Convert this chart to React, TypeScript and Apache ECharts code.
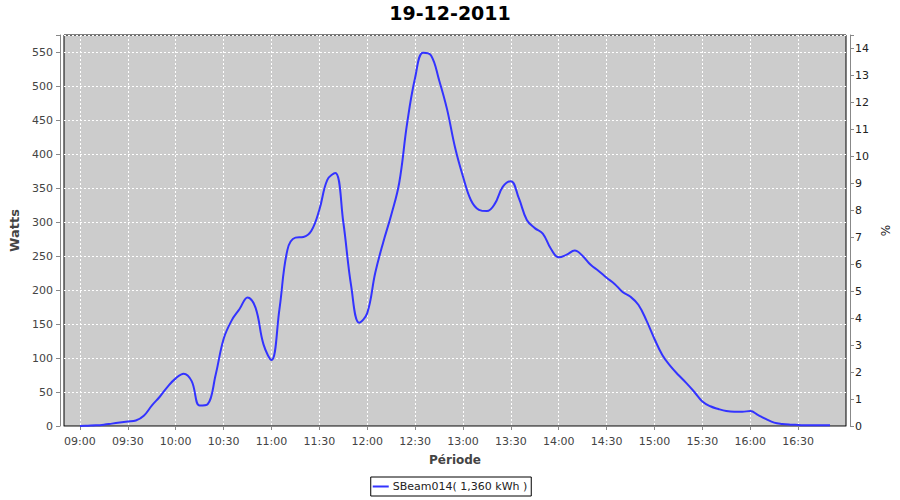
import React, { useEffect, useRef } from 'react';
import * as echarts from 'echarts';

const chartTitle = '19-12-2011';
const seriesName = 'SBeam014( 1,360 kWh )';
const yLeftName = 'Watts';
const yRightName = '%';
const xName = 'Période';

const times: string[] = [
  '08:50', '08:55',
  '09:00', '09:05', '09:10', '09:15', '09:20', '09:25', '09:30', '09:35', '09:40', '09:45', '09:50', '09:55',
  '10:00', '10:05', '10:10', '10:15', '10:20', '10:25', '10:30', '10:35', '10:40', '10:45', '10:50', '10:55',
  '11:00', '11:05', '11:10', '11:15', '11:20', '11:25', '11:30', '11:35', '11:40', '11:45', '11:50', '11:55',
  '12:00', '12:05', '12:10', '12:15', '12:20', '12:25', '12:30', '12:35', '12:40', '12:45', '12:50', '12:55',
  '13:00', '13:05', '13:10', '13:15', '13:20', '13:25', '13:30', '13:35', '13:40', '13:45', '13:50', '13:55',
  '14:00', '14:05', '14:10', '14:15', '14:20', '14:25', '14:30', '14:35', '14:40', '14:45', '14:50', '14:55',
  '15:00', '15:05', '15:10', '15:15', '15:20', '15:25', '15:30', '15:35', '15:40', '15:45', '15:50', '15:55',
  '16:00', '16:05', '16:10', '16:15', '16:20', '16:25', '16:30', '16:35', '16:40', '16:45', '16:50', '16:55',
  '17:00',
];

const watts: (number | null)[] = [
  null, null,
  0, 0.5, 1, 2, 3.5, 5, 6.5, 8, 15, 30, 43, 58,
  70, 77, 66, 30, 32, 75, 128, 155, 172, 189, 174, 120,
  97, 172, 259, 277, 278, 287, 318, 362, 372, 300, 205, 152,
  166, 225, 270, 310, 357, 445, 512, 549, 545, 509, 466, 410,
  367, 332, 318, 316, 327, 352, 360, 335, 303, 291, 283, 261,
  248, 252, 258, 250, 237, 228, 218, 209, 197, 190, 178, 155,
  128, 104, 88, 75, 63, 50, 36, 29, 25, 22, 21, 21,
  22, 16, 10, 5, 3, 2, 1.5, 1, 1, 1, 1, null,
  null,
];

const xTickLabels: string[] = [
  '09:00', '09:30', '10:00', '10:30', '11:00', '11:30', '12:00', '12:30',
  '13:00', '13:30', '14:00', '14:30', '15:00', '15:30', '16:00', '16:30',
];

const leftMax = 575;
const leftStep = 50;
const rightMax = 14.5;
const rightStep = 1;

export default function App() {
  const ref = useRef<HTMLDivElement>(null);

  useEffect(() => {
    if (!ref.current) return;
    const chart = echarts.init(ref.current, null, { renderer: 'svg' });
    const font = 'DejaVu Sans';
    const axisGray = '#888888';
    const labelColor = '#444444';
    const showTick = (_i: number, v: string) => xTickLabels.includes(v);

    chart.setOption({
      animation: false,
      backgroundColor: '#ffffff',
      title: {
        text: chartTitle,
        left: 'center',
        top: 3,
        padding: 0,
        textStyle: { fontFamily: font, fontSize: 19, fontWeight: 'bold', color: '#000000' },
      },
      legend: {
        data: [{ name: seriesName, icon: 'rect' }],
        left: 'center',
        top: 477,
        borderColor: '#000000',
        borderWidth: 1,
        padding: [4, 4, 4, 2],
        itemWidth: 16,
        itemHeight: 2,
        itemGap: 0,
        textStyle: { fontFamily: font, fontSize: 11, color: '#222222', padding: [0, 0, 0, -1] },
      },
      grid: {
        left: 64,
        right: 54,
        top: 35,
        bottom: 74,
        show: true,
        backgroundColor: '#cccccc',
        borderColor: '#000000',
        borderWidth: 1,
      },
      xAxis: {
        type: 'category',
        data: times,
        boundaryGap: false,
        offset: 3,
        name: xName,
        nameLocation: 'middle',
        nameGap: 25,
        nameTextStyle: { fontFamily: font, fontSize: 12, fontWeight: 'bold', color: labelColor },
        axisLine: { show: true, lineStyle: { color: axisGray, width: 1 } },
        axisTick: { show: true, interval: showTick, length: 4, lineStyle: { color: axisGray } },
        axisLabel: {
          interval: showTick,
          margin: 7,
          fontFamily: font,
          fontSize: 11,
          color: labelColor,
        },
        splitLine: {
          show: true,
          interval: showTick,
          lineStyle: { color: '#ffffff', width: 1, type: [2, 2] },
        },
      },
      yAxis: [
        {
          type: 'value',
          min: 0,
          max: leftMax,
          interval: leftStep,
          position: 'left',
          offset: 4,
          name: yLeftName,
          nameLocation: 'middle',
          nameGap: 28,
          nameTextStyle: { fontFamily: font, fontSize: 13, fontWeight: 'bold', color: labelColor },
          axisLine: { show: true, lineStyle: { color: axisGray, width: 1 } },
          axisTick: { show: true, length: 4, lineStyle: { color: axisGray } },
          axisLabel: {
            margin: 7,
            fontFamily: font,
            fontSize: 11,
            color: labelColor,
            formatter: (v: number) => (v % leftStep === 0 ? String(v) : ''),
          },
          splitLine: {
            show: true,
            lineStyle: { color: '#ffffff', width: 1, type: [2, 2] },
          },
        },
        {
          type: 'value',
          min: 0,
          max: rightMax,
          interval: rightStep,
          position: 'right',
          offset: 4,
          name: yRightName,
          nameLocation: 'middle',
          nameGap: 24,
          nameTextStyle: { fontFamily: font, fontSize: 12, color: '#222222' },
          axisLine: { show: true, lineStyle: { color: axisGray, width: 1 } },
          axisTick: { show: true, length: 4, lineStyle: { color: axisGray } },
          axisLabel: {
            margin: 5,
            fontFamily: font,
            fontSize: 11,
            color: '#222222',
            formatter: (v: number) => (Number.isInteger(v) ? String(v) : ''),
          },
          splitLine: { show: false },
        },
      ],
      series: [
        {
          name: seriesName,
          type: 'line',
          yAxisIndex: 0,
          data: watts,
          smooth: 0.4,
          symbol: 'none',
          connectNulls: false,
          lineStyle: { color: '#3333ff', width: 2 },
          itemStyle: { color: '#3333ff' },
        },
      ],
    });

    return () => chart.dispose();
  }, []);

  return (
    <div
      ref={ref}
      style={{ position: 'absolute', left: 0, top: 0, width: 900, height: 500, background: '#ffffff' }}
    />
  );
}
